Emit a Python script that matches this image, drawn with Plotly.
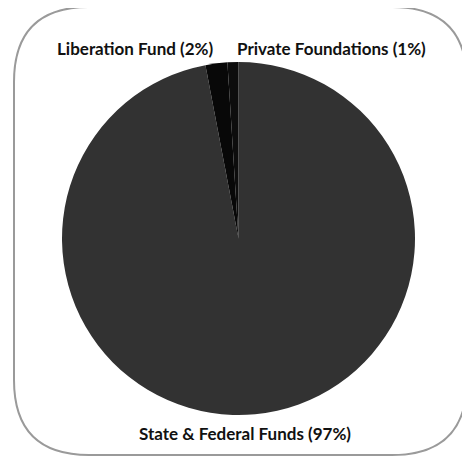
import plotly.graph_objects as go

labels = ["State & Federal Funds", "Liberation Fund", "Private Foundations"]
values = [97, 2, 1]
colors = ["#323232", "#080808", "#0d0d0d"]

OFF = 8  # page body margin
W, H = 470 - OFF, 459 - OFF

def px(x):
    return (x - OFF) / W

def py(y):
    return 1 - (y - OFF) / H

fig = go.Figure(go.Pie(
    labels=labels,
    values=values,
    sort=False,
    direction="clockwise",
    rotation=0,
    marker=dict(colors=colors, line=dict(width=0)),
    textinfo="none",
    hoverinfo="label+percent",
    showlegend=False,
    domain=dict(x=[px(62), px(415)], y=[py(415), py(62)]),
))

# label annotations built from the data
label_pos = {
    "Liberation Fund": (135, 48),
    "Private Foundations": (331, 48),
    "State & Federal Funds": (245, 433),
}
for lab, val in zip(labels, values):
    x, y = label_pos[lab]
    fig.add_annotation(
        x=px(x), y=py(y), xref="paper", yref="paper",
        text=f"<b>{lab} ({val}%)</b>", showarrow=False,
        font=dict(family="Lato", size=17, color="#111111"),
        xanchor="center", yanchor="middle",
    )

# rounded border
x0, x1, y0, y1, r = 14, 467, 7, 455, 75
def P(x, y):
    return f"{px(x):.5f},{py(y):.5f}"
path = (f"M {P(x0 + r, y0)} L {P(x1 - r, y0)} Q {P(x1, y0)} {P(x1, y0 + r)} "
        f"L {P(x1, y1 - r)} Q {P(x1, y1)} {P(x1 - r, y1)} "
        f"L {P(x0 + r, y1)} Q {P(x0, y1)} {P(x0, y1 - r)} "
        f"L {P(x0, y0 + r)} Q {P(x0, y0)} {P(x0 + r, y0)} Z")
fig.add_shape(type="path", path=path, xref="paper", yref="paper",
              line=dict(color="#9a9a9a", width=2))

fig.update_layout(
    width=W, height=H,
    margin=dict(l=0, r=0, t=0, b=0),
    paper_bgcolor="white",
    plot_bgcolor="white",
)

fig.write_html("out.html")
